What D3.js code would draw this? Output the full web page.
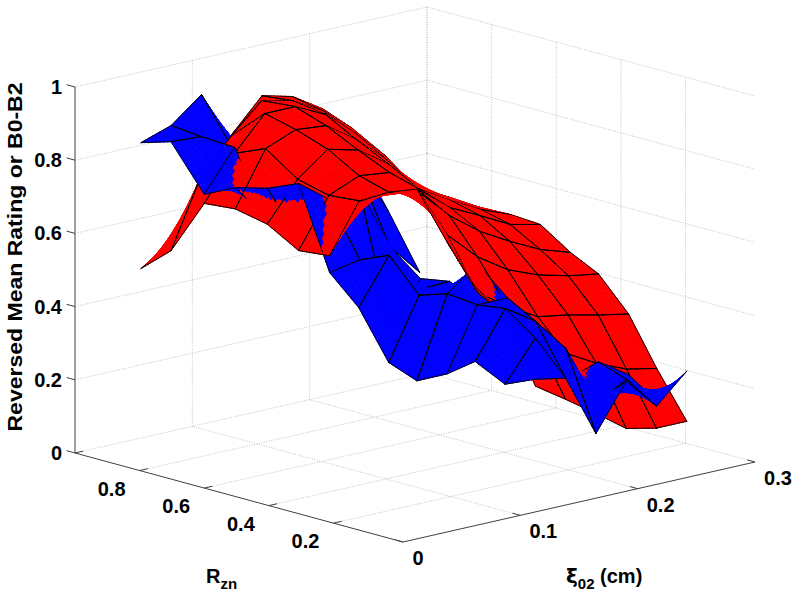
<!DOCTYPE html>
<html>
<head>
<meta charset="utf-8">
<script src="https://d3js.org/d3.v7.min.js"></script>
<style>
	html, body { margin: 0; background: #fff; }
	text { font-family: "Liberation Sans", Arial, sans-serif; font-weight: bold; fill: #000; }
</style>
</head>
<body>
<svg id="chart" width="800" height="603"></svg>
<script>
//axis ticks
const xiTicks = [0, 0.1, 0.2, 0.3];
const rTicks = [0.2, 0.4, 0.6, 0.8];
const zTicks = [0, 0.2, 0.4, 0.6, 0.8, 1];

//grid of the two surfaces
const xiValues = [0.0562, 0.0820, 0.1078, 0.1336, 0.1594, 0.1852, 0.2110];
const rValues = [1, 0.907, 0.804, 0.708, 0.609, 0.512, 0.416, 0.326, 0.233, 0.146, 0.053, -0.034, -0.127, -0.22];

//one row per R value, one column per xi value, null = no patch there
const ratingZ = [
	[0.463, 0.515, 0.644, 0.773, 0.860, 0.839, 0.787],
	[0.534, 0.720, 0.811, 0.888, 0.869, 0.823, 0.755],
	[0.688, 0.806, 0.896, 0.896, 0.856, 0.785, 0.704],
	[0.696, 0.842, 0.875, 0.867, 0.810, 0.736, 0.639],
	[0.678, 0.782, 0.845, 0.824, 0.767, 0.680, 0.639],
	[0.629, 0.761, 0.796, 0.786, 0.721, 0.672, 0.634],
	[0.638, 0.769, 0.772, 0.762, 0.713, 0.670, 0.637],
	[0.808, 0.814, 0.800, 0.735, 0.694, 0.651, 0.632],
	[0.855, 0.836, 0.754, 0.692, 0.646, 0.605, 0.578],
	[0.885, 0.741, 0.662, 0.608, 0.575, 0.554, 0.540],
	[0.763, 0.607, 0.548, 0.502, 0.488, 0.469, 0.453],
	[0.662, 0.561, 0.480, 0.423, 0.377, 0.342, 0.325],
	[null, 0.393, 0.338, 0.281, 0.221, 0.203, 0.203],
	[null, null, null, null, null, null, null],
];

const b0b2Z = [
	[0.807, 0.835, 0.901, 0.751, null, null, null],
	[0.832, 0.827, 0.781, 0.710, null, null, null],
	[0.713, 0.822, 0.724, null, null, null, null],
	[0.754, 0.656, null, 0.769, 0.777, null, null],
	[0.776, 0.620, 0.782, 0.775, 0.638, null, null],
	[0.812, 0.750, 0.761, 0.584, 0.494, null, null],
	[0.592, 0.608, 0.404, 0.519, null, null, null],
	[0.518, 0.642, 0.530, 0.533, null, null, null],
	[0.390, 0.555, 0.539, 0.498, null, null, null],
	[0.361, 0.580, 0.643, null, null, null, null],
	[0.402, 0.572, 0.572, 0.474, 0.313, 0.341, 0.287],
	[0.457, 0.583, 0.529, 0.436, 0.267, 0.314, 0.235],
	[0.417, 0.524, 0.396, 0.226, 0.350, 0.263, 0.340],
	[0.453, 0.437, null, null, null, null, null],
];

//blue and red cut through each other, these rows get pushed back or forward in the sort
const redRowShift = [];
const blueRowShift = [0, 0, -0.015, 0.03, 0.03, 0.015, 0, 0, 0, 0, -0.14, -0.14, -0.14];

const svg = d3.select("#chart");

//the view: front corner of the box, and what each data axis moves on screen
const originX = 403;
const originY = 542;
const xiX = d3.scaleLinear().domain([0, 0.3]).range([0, 352]);
const xiY = d3.scaleLinear().domain([0, 0.3]).range([0, -80]);
const rX = d3.scaleLinear().domain([-0.015, 1]).range([0, -328]);
const rY = d3.scaleLinear().domain([-0.015, 1]).range([0, -89]);
const zY = d3.scaleLinear().domain([0, 1]).range([0, -366]);
const xiNorm = d3.scaleLinear().domain([0, 0.3]).range([0, 1]);
const rNorm = d3.scaleLinear().domain([-0.015, 1]).range([0, 1]);

const project = (xi, r, z) => [
	originX + xiX(xi) + rX(r),
	originY + xiY(xi) + rY(r) + zY(z),
];

//bigger = further from the viewer
const depth = (xi, r, z) => 0.66 * xiNorm(xi) + 0.71 * rNorm(r) - 0.25 * z;

const gridLayer = svg.append("g");

const line3d = (a, b, color, extra) => {
	const p = project(a[0], a[1], a[2]);
	const q = project(b[0], b[1], b[2]);
	const l = gridLayer
		.append("line")
		.attr("x1", p[0])
		.attr("y1", p[1])
		.attr("x2", q[0])
		.attr("y2", q[1])
		.attr("stroke", color);
	if (extra) l.attr("stroke-dasharray", extra);
	return l;
};

const gridColor = "#c2c2c2";
const dots = "1,1.5";
const rMax = 1;
const rMin = -0.015;
const xiMax = 0.3;

//walls and floor
rTicks.concat([rMax]).forEach((r) => {
	line3d([0, r, 0], [xiMax, r, 0], gridColor, dots);
	line3d([xiMax, r, 0], [xiMax, r, 1], gridColor, dots);
});
xiTicks.slice(1).forEach((xi) => {
	line3d([xi, rMin, 0], [xi, rMax, 0], gridColor, dots);
	line3d([xi, rMax, 0], [xi, rMax, 1], gridColor, dots);
});
zTicks.slice(1).forEach((z) => {
	line3d([0, rMax, z], [xiMax, rMax, z], gridColor, dots);
	line3d([xiMax, rMax, z], [xiMax, rMin, z], gridColor, dots);
});

//axis lines and ticks
const axisColor = "#404040";
line3d([0, rMin, 0], [xiMax, rMin, 0], axisColor);
line3d([0, rMin, 0], [0, rMax, 0], axisColor);
line3d([0, rMax, 0], [0, rMax, 1], axisColor);
xiTicks.forEach((xi) => line3d([xi, rMin, 0], [xi, rMin + 0.024, 0], axisColor));
rTicks.concat([rMax]).forEach((r) => line3d([0, r, 0], [0.007, r, 0], axisColor));
zTicks.forEach((z) => line3d([0, rMax, z], [0, rMax + 0.026, z], axisColor));

//surfaces, chopped in small pieces so both can be depth sorted together
const pieces = [];
const steps = 8;

const addSurface = (zValues, color, rowShift) => {
	const lerpCell = (i, j, u, v) => {
		const z00 = zValues[j][i];
		const z10 = zValues[j][i + 1];
		const z01 = zValues[j + 1][i];
		const z11 = zValues[j + 1][i + 1];
		const xi = xiValues[i] + (xiValues[i + 1] - xiValues[i]) * u;
		const r = rValues[j] + (rValues[j + 1] - rValues[j]) * v;
		const z = (z00 * (1 - u) + z10 * u) * (1 - v) + (z01 * (1 - u) + z11 * u) * v;
		return [xi, r, z];
	};

	for (let j = 0; j < rValues.length - 1; j++) {
		const shift = rowShift[j] || 0;
		for (let i = 0; i < xiValues.length - 1; i++) {
			if ([zValues[j][i], zValues[j][i + 1], zValues[j + 1][i], zValues[j + 1][i + 1]].includes(null)) continue;
			for (let a = 0; a < steps; a++) {
				const u0 = a / steps;
				const u1 = (a + 1) / steps;
				for (let b = 0; b < steps; b++) {
					const v0 = b / steps;
					const v1 = (b + 1) / steps;
					const corners = [[u0, v0], [u1, v0], [u1, v1], [u0, v1]].map((c) => lerpCell(i, j, c[0], c[1]));
					const mid = lerpCell(i, j, (u0 + u1) / 2, (v0 + v1) / 2);
					pieces.push({
						type: "patch",
						depth: depth(mid[0], mid[1], mid[2]) + shift,
						points: corners.map((c) => project(c[0], c[1], c[2])),
						color: color,
					});
				}
				//cell borders
				[[[u0, 0], [u1, 0]], [[u0, 1], [u1, 1]], [[0, u0], [0, u1]], [[1, u0], [1, u1]]].forEach((seg) => {
					const s = lerpCell(i, j, seg[0][0], seg[0][1]);
					const e = lerpCell(i, j, seg[1][0], seg[1][1]);
					pieces.push({
						type: "edge",
						depth: depth((s[0] + e[0]) / 2, (s[1] + e[1]) / 2, (s[2] + e[2]) / 2) + shift - 0.012,
						points: [project(s[0], s[1], s[2]), project(e[0], e[1], e[2])],
					});
				});
			}
		}
	}
};

addSurface(ratingZ, "#ff0000", redRowShift);
addSurface(b0b2Z, "#0000ff", blueRowShift);
pieces.sort((a, b) => b.depth - a.depth);

const surfaceLayer = svg.append("g");
pieces.forEach((p) => {
	if (p.type === "patch") {
		surfaceLayer
			.append("polygon")
			.attr("points", p.points.map((d) => d.join(",")).join(" "))
			.attr("fill", p.color)
			.attr("stroke", p.color)
			.attr("stroke-width", 0.9);
	} else {
		surfaceLayer
			.append("line")
			.attr("x1", p.points[0][0])
			.attr("y1", p.points[0][1])
			.attr("x2", p.points[1][0])
			.attr("y2", p.points[1][1])
			.attr("stroke", "#000")
			.attr("stroke-width", 0.9)
			.attr("stroke-linecap", "round");
	}
});

//tick labels
const fontSize = 20;
const labelLayer = svg.append("g").attr("font-size", fontSize);

zTicks.forEach((z) => {
	const p = project(0, rMax, z);
	labelLayer
		.append("text")
		.attr("x", p[0] - 13)
		.attr("y", p[1] + 7)
		.attr("text-anchor", "end")
		.text(z);
});
rTicks.forEach((r) => {
	const p = project(0, r, 0);
	labelLayer
		.append("text")
		.attr("x", p[0] - 28)
		.attr("y", p[1] + 25)
		.attr("text-anchor", "middle")
		.text(r);
});
xiTicks.forEach((xi) => {
	const p = project(xi, rMin, 0);
	labelLayer
		.append("text")
		.attr("x", p[0] + 15 + 8 * Math.min(xi * 10, 1))
		.attr("y", p[1] + 23)
		.attr("text-anchor", "middle")
		.text(xi);
});

//axis titles
labelLayer
	.append("text")
	.attr("transform", "translate(22,257) rotate(-90)")
	.attr("text-anchor", "middle")
	.attr("font-size", 21)
	.attr("textLength", 349)
	.attr("lengthAdjust", "spacingAndGlyphs")
	.text("Reversed Mean Rating or B0-B2");

const rTitle = labelLayer.append("text").attr("x", 206).attr("y", 583);
rTitle.append("tspan").text("R");
rTitle.append("tspan").attr("font-size", 15).attr("dy", 6).text("zn");

const xiTitle = labelLayer.append("text").attr("x", 566).attr("y", 583);
xiTitle.append("tspan").attr("font-family", "DejaVu Sans").text("\u03be");
xiTitle.append("tspan").attr("font-size", 15).attr("dy", 6).text("02");
xiTitle.append("tspan").attr("dy", -6).text(" (cm)");
</script>
</body>
</html>
